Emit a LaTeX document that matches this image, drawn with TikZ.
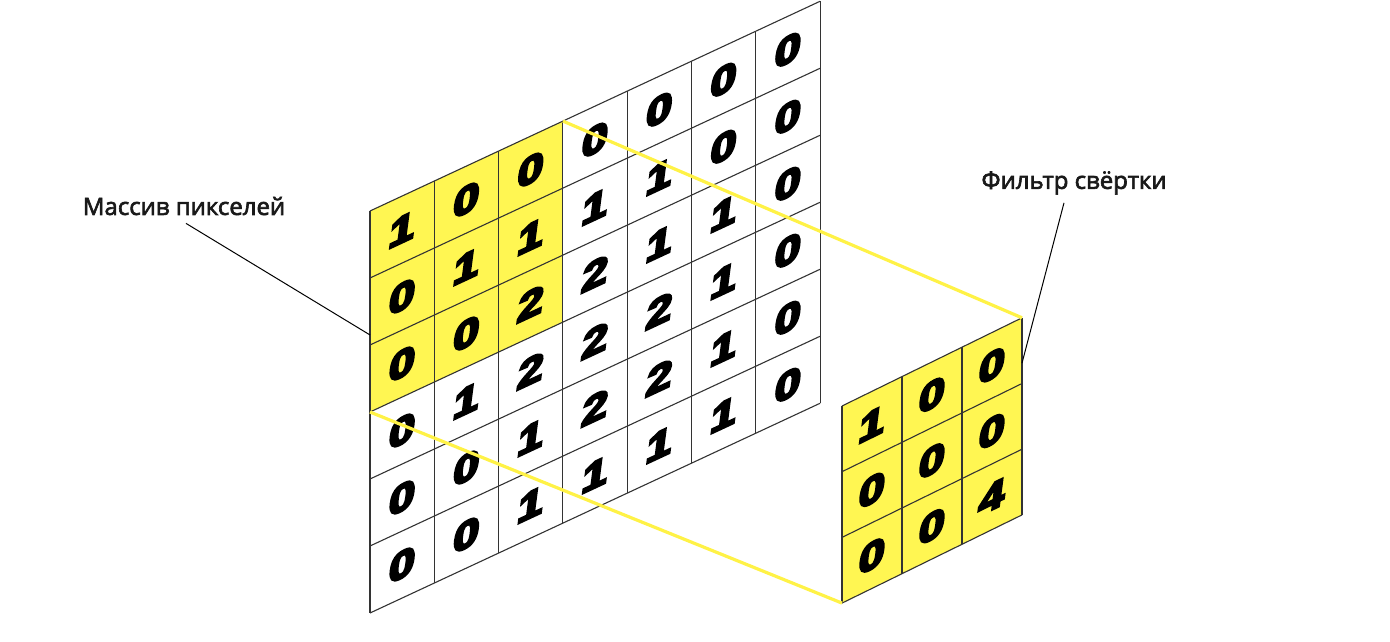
\documentclass[tikz,border=0pt]{standalone}
\usepackage{fontspec}
\setmainfont{Open Sans}
\newfontfamily\captionfont{Open Sans}[FakeBold=2.6]
\newfontfamily\digitfont{Liberation Sans Bold}[FakeBold=6]
\usetikzlibrary{calc}
\definecolor{pixelyellow}{RGB}{255,246,82}
\definecolor{linkyellow}{RGB}{255,242,70}
\tikzset{
  cellline/.style={draw=black!80, line width=1.1pt},
  digit/.style={font=\digitfont\fontsize{38}{38}\selectfont, inner sep=0pt, transform shape, xslant=0.14, xscale=1.22},
  link/.style={draw=linkyellow, line width=3.2pt},
  leader/.style={draw=black, line width=1pt},
  caption/.style={font=\captionfont\fontsize{24}{27}\selectfont, text=black!90, inner sep=2pt}
}
% cell lines of a skewed grid: #1 columns, #2 rows
\newcommand{\cellgrid}[2]{
    \foreach \c in {0,...,#1} {\draw[cellline] (\c,0) -- (\c,#2);}
    \foreach \r in {0,...,#2} {\draw[cellline] (0,\r) -- (#1,\r);}
}

\begin{document}
\begin{tikzpicture}[x=1pt, y=-1pt]
    \useasboundingbox (0,0) rectangle (1390,642);

    % ==========================================
    % 1. Massiv pikselej (7 x 6)
    % ==========================================
    \begin{scope}[shift={(370pt,-211pt)}, yslant=0.466, x=64.3pt, y=-67pt]
        \fill[pixelyellow] (0,0) -- (3,0) -- (3,3) -- (0,3) -- cycle;
        \cellgrid{7}{6}
        \foreach \r/\vals in {
            1/{1,0,0,0,0,0,0},
            2/{0,1,1,1,1,0,0},
            3/{0,0,2,2,1,1,0},
            4/{0,1,2,2,2,1,0},
            5/{0,0,1,2,2,1,0},
            6/{0,0,1,1,1,1,0}} {
            \foreach \v [count=\c] in \vals {
                \node[digit] (m-\r-\c) at (\c-0.5, \r-0.5) {\v};
            }
        }
        \coordinate (winTR) at (3,0);
        \coordinate (winBL) at (0,3);
        \coordinate (arrayPin) at (0,1.85);
    \end{scope}

    % ==========================================
    % 2. Filtr svertki (3 x 3)
    % ==========================================
    \begin{scope}[shift={(842pt,-406pt)}, yslant=0.49, x=60pt, y=-65.7pt]
        \fill[pixelyellow] (0,0) -- (3,0) -- (3,3) -- (0,3) -- cycle;
        \cellgrid{3}{3}
        \foreach \r/\vals in {
            1/{1,0,0},
            2/{0,0,0},
            3/{0,0,4}} {
            \foreach \v [count=\c] in \vals {
                \node[digit] (f-\r-\c) at (\c-0.5, \r-0.5) {\v};
            }
        }
        \coordinate (filtTR) at (3,0);
        \coordinate (filtBL) at (0,3);
        \coordinate (filterPin) at (3,0.69);
    \end{scope}

    % Zheltye linii okna
    \draw[link] (winTR) -- (filtTR);
    \draw[link] (winBL) -- (filtBL);

    % Podpisi
    \node[caption] (lblArray) at (184,206) {Массив пикселей};
    \node[caption] (lblFilter) at (1074,183) {Фильтр свёртки};
    \draw[leader] ([shift={(2,6)}]lblArray.south) -- (arrayPin);
    \draw[leader] ([shift={(-10,6)}]lblFilter.south) -- (filterPin);

\end{tikzpicture}
\end{document}
